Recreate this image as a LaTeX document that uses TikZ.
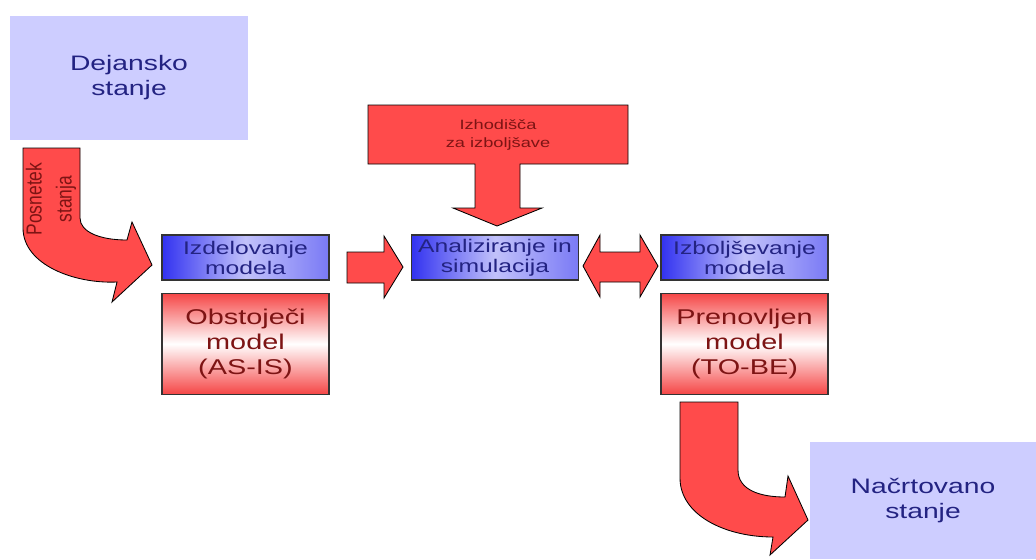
\documentclass[tikz,border=0pt]{standalone}
\usepackage{fontspec}
\setmainfont{Liberation Sans}[FakeStretch=1.35]
\newfontfamily\plainsans{Liberation Sans}
\usetikzlibrary{positioning}

\definecolor{stanjefill}{RGB}{205,205,255}
\definecolor{stanjetext}{RGB}{35,35,130}
\definecolor{boxblue}{RGB}{50,50,240}
\definecolor{boxred}{RGB}{245,70,70}
\definecolor{arrowred}{RGB}{255,75,75}
\definecolor{darkred}{RGB}{125,20,20}

\tikzset{
    stanje/.style={fill=stanjefill, text=stanjetext, minimum width=5.95cm, minimum height=3.1cm,
        inner sep=0pt, align=center, font=\fontsize{14.9}{17.8}\selectfont},
    bluebox/.style={draw=black!80, line width=0.9pt, left color=boxblue, right color=boxblue!65,
        middle color=boxblue!30, text=stanjetext, minimum width=4.175cm, minimum height=1.125cm,
        inner sep=0pt, align=center, font=\fontsize{13}{14.2}\selectfont},
    redbox/.style={draw=black!80, line width=0.9pt, top color=boxred, bottom color=boxred,
        middle color=white, text=darkred, minimum width=4.175cm, minimum height=2.525cm,
        inner sep=0pt, align=center, font=\fontsize{15.2}{17.8}\selectfont},
    blockarrow/.style={fill=arrowred, draw=black, line width=0.6pt, line join=miter},
}

\begin{document}
\begin{tikzpicture}[x=0.025cm, y=-0.025cm]
    \useasboundingbox (0,0) rectangle (1036,559);
    % stanja
    \node[stanje] (dejansko) at (129,78) {Dejansko\\stanje};
    \node[stanje, minimum width=5.65cm, minimum height=2.925cm] (nacrtovano) at (923,500.5) {Načrtovano\\stanje};
    % modeli
    \node[bluebox] (izdelava) at (245.5,257.5) {Izdelovanje\\modela};
    \node[redbox, below=0.3cm of izdelava] (obstojeci) {Obstoječi\\model\\(AS-IS)};
    \node[bluebox] (analiza) at (495,257.5) {Analiziranje in\\simulacija};
    \node[bluebox] (izboljsava) at (744.5,257.5) {Izboljševanje\\modela};
    \node[redbox, below=0.3cm of izboljsava] (prenovljen) {Prenovljen\\model\\(TO-BE)};
    % posnetek stanja
    \draw[blockarrow] (23,148) -- (23,228) .. controls (23,265) and (75,284) .. (117,282)
        -- (112,302) -- (152,265) -- (132,222) -- (127,240)
        .. controls (100,240) and (80,232) .. (80,218) -- (80,148) -- cycle;
    \node[rotate=90, yscale=1.25, text=darkred, align=center,
        font=\plainsans\fontsize{12.4}{17}\selectfont] (posnetek) at (51,199) {Posnetek\\stanja};
    % puscice med modeli
    \draw[blockarrow] (347,252) -- (384,252) -- (384,236) -- (403,267) -- (384,298)
        -- (384,283) -- (347,283) -- cycle;
    \draw[blockarrow] (583,266) -- (600,235) -- (600,252) -- (640,252) -- (640,235) -- (658,266)
        -- (640,297) -- (640,282) -- (600,282) -- (600,297) -- cycle;
    % izhodisca
    \draw[blockarrow] (368,105) -- (628,105) -- (628,164) -- (520,164) -- (520,208) -- (542,208)
        -- (497,226) -- (453,208) -- (475,208) -- (475,164) -- (368,164) -- cycle;
    \node[text=darkred, align=center, font=\fontsize{9.6}{12.4}\selectfont] (izhodisca) at (498,135)
        {Izhodišča\\za izboljšave};
    % proti nacrtovanemu stanju
    \draw[blockarrow] (680,402) -- (680,478) .. controls (680,515) and (725,537) .. (773,537)
        -- (770,555) -- (808,520) -- (788,476) -- (785,497)
        .. controls (760,497) and (738,490) .. (738,470) -- (738,402) -- cycle;
\end{tikzpicture}
\end{document}
